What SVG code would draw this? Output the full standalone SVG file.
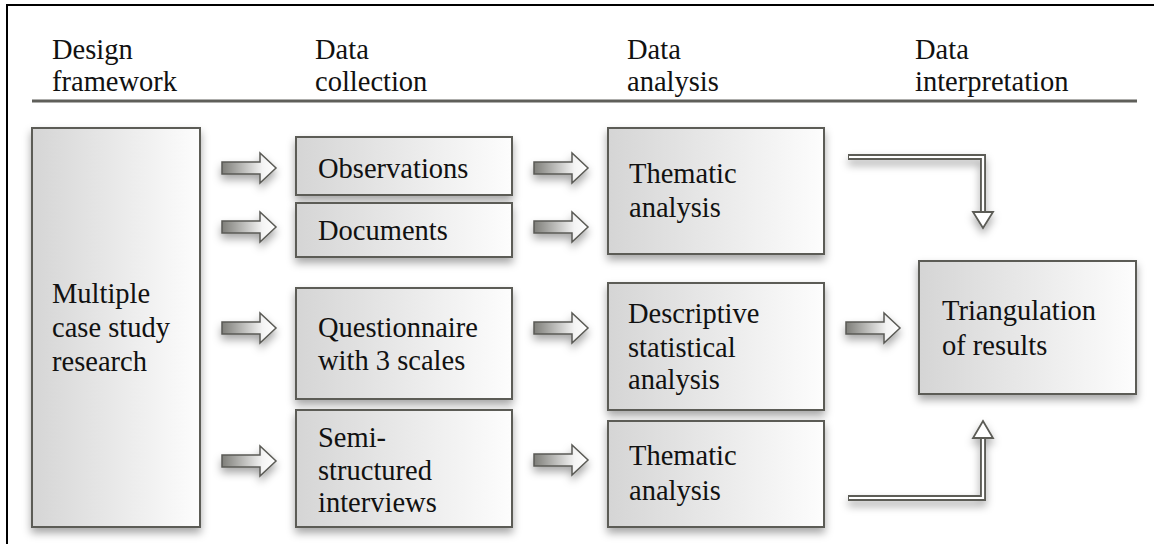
<svg xmlns="http://www.w3.org/2000/svg" width="1154" height="544" viewBox="0 0 1154 544">
<defs>
<linearGradient id="boxg" x1="0" y1="0" x2="1" y2="0">
<stop offset="0" stop-color="#d5d5d5"/>
<stop offset="1" stop-color="#fdfdfd"/>
</linearGradient>
<linearGradient id="arrg" x1="0" y1="0" x2="1" y2="0">
<stop offset="0" stop-color="#7e7e79"/>
<stop offset="0.75" stop-color="#f4f4f4"/>
<stop offset="1" stop-color="#ffffff"/>
</linearGradient>
<filter id="sh" x="-10%" y="-10%" width="130%" height="140%">
<feDropShadow dx="0" dy="5" stdDeviation="4" flood-color="#000" flood-opacity="0.35"/>
</filter>
<path id="blk" d="M0,-6 H38 V-15 L54,0 L38,15 V6 H0 Z" fill="url(#arrg)" stroke="#5a5a55" stroke-width="1.5" stroke-linejoin="miter"/>
</defs>
<style>
.box{fill:url(#boxg);stroke:#5c5c57;stroke-width:2;filter:url(#sh)}
text{font-family:'Liberation Serif','Times New Roman',Tinos,'DejaVu Serif',serif;font-size:28.5px;fill:#111}
.shaft{fill:none;stroke:#5c5c57;stroke-width:6}
.shaftin{fill:none;stroke:#ffffff;stroke-width:2.2}
.head{fill:#fff;stroke:#5c5c57;stroke-width:1.8;stroke-linejoin:miter}
</style>
<rect width="1154" height="544" fill="#fff"/>
<path d="M7,544 V5 H1154" fill="none" stroke="#000" stroke-width="2"/>
<g id="headers" font-family="Liberation Serif, serif">
<text x="52" y="59">Design</text>
<text x="52" y="91">framework</text>
<text x="315" y="59">Data</text>
<text x="315" y="91">collection</text>
<text x="627" y="59">Data</text>
<text x="627" y="91">analysis</text>
<text x="915" y="59">Data</text>
<text x="915" y="91">interpretation</text>
<line x1="32" y1="101" x2="1137" y2="101" stroke="#5f5f5a" stroke-width="3"/>
</g>
<g id="design">
<rect class="box" x="32" y="128" width="168" height="399"/>
<text x="52" y="303">Multiple</text>
<text x="52" y="337">case study</text>
<text x="52" y="371">research</text>
</g>
<g id="observations">
<rect class="box" x="296" y="137" width="216" height="58"/>
<text x="318" y="178">Observations</text>
</g>
<g id="documents">
<rect class="box" x="296" y="203" width="216" height="54"/>
<text x="318" y="240">Documents</text>
</g>
<g id="questionnaire">
<rect class="box" x="296" y="288" width="216" height="111"/>
<text x="318" y="337">Questionnaire</text>
<text x="318" y="370">with 3 scales</text>
</g>
<g id="interviews">
<rect class="box" x="296" y="410" width="216" height="117"/>
<text x="318" y="447">Semi-</text>
<text x="318" y="480">structured</text>
<text x="318" y="512">interviews</text>
</g>
<g id="thematic1">
<rect class="box" x="608" y="128" width="216" height="126"/>
<text x="629" y="183">Thematic</text>
<text x="629" y="217">analysis</text>
</g>
<g id="descriptive">
<rect class="box" x="608" y="283" width="216" height="127"/>
<text x="628" y="323">Descriptive</text>
<text x="628" y="357">statistical</text>
<text x="628" y="389">analysis</text>
</g>
<g id="thematic2">
<rect class="box" x="608" y="421" width="216" height="106"/>
<text x="629" y="465">Thematic</text>
<text x="629" y="500">analysis</text>
</g>
<g id="triangulation">
<rect class="box" x="919" y="261" width="217" height="133"/>
<text x="942" y="320">Triangulation</text>
<text x="942" y="355">of results</text>
</g>
<g id="connectors" filter="url(#sh)">
<use href="#blk" x="222" y="168"/>
<use href="#blk" x="222" y="227"/>
<use href="#blk" x="222" y="328"/>
<use href="#blk" x="222" y="461"/>
<use href="#blk" x="534" y="168"/>
<use href="#blk" x="534" y="227"/>
<use href="#blk" x="534" y="328"/>
<use href="#blk" x="534" y="460"/>
<use href="#blk" x="846" y="328"/>
<path class="shaft" d="M848,157 H983 V213"/>
<path class="shaftin" d="M849,157 H983 V214"/>
<polygon class="head" points="973,212 993,212 983,228"/>
<path class="shaft" d="M848,498 H983 V437"/>
<path class="shaftin" d="M849,498 H983 V436"/>
<polygon class="head" points="973,438 993,438 983,421"/>
</g>
</svg>
